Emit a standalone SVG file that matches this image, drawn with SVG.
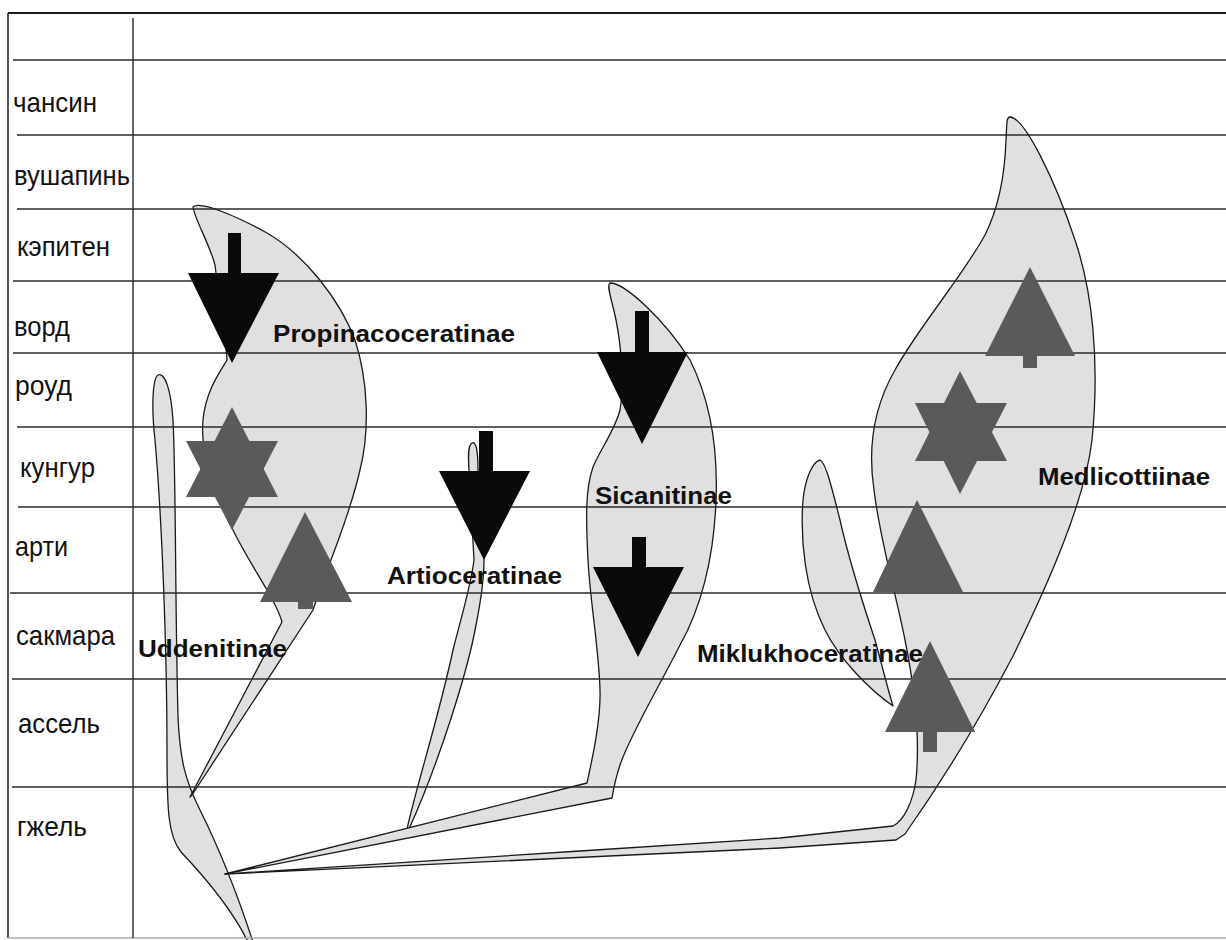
<svg xmlns="http://www.w3.org/2000/svg" width="1226" height="940" viewBox="0 0 1226 940">
<style>
.grid{stroke:#2a2a2a;stroke-width:1.4;fill:none}
.clade{fill:#e0e0e0;stroke:#1a1a1a;stroke-width:1.3;stroke-linejoin:round}
.sym{fill:#5a5a5a;stroke:none}
.arr{fill:#0a0a0a;stroke:none}
.stage{font-family:"Liberation Sans",Arial,sans-serif;font-size:28px;fill:#111}
.name{font-family:"Liberation Sans",Arial,sans-serif;font-size:24px;font-weight:bold;fill:#111}
</style>
<rect x="0" y="0" width="1226" height="940" fill="#ffffff"/>

<g id="clade-shapes">
  <path id="shape-uddenitinae" class="clade" d="M158,375 C165,372 171,390 173,420 C176,480 175,600 178,717 C180,760 185,780 200,810 C215,840 236,890 253,942 L248,942 C230,905 200,872 181,852 C168,836 167,810 167,750 C167,650 162,520 155,440 C151,405 153,378 158,375 Z"/>
  <path id="shape-propinacoceratinae" class="clade" d="M193,207 C200,200 240,218 267,233 C305,255 340,300 355,340 C368,380 370,430 360,470 C352,505 337,545 324,578 L313,610 L192,795 L190,797 L282,622 C276,600 250,565 233,530 C215,495 200,455 203,420 C206,390 220,372 227,360 C225,330 218,290 215,265 C210,245 195,220 193,207 Z"/>
  <path id="shape-artioceratinae" class="clade" d="M472,443 C476,441 478,450 478,470 L484,560 C484,580 481,600 476,625 C468,670 440,760 409,829 L407,829 C418,780 438,720 453,650 C463,610 470,590 474,560 L469,470 C468,455 468,445 472,443 Z"/>
  <path id="shape-sicanitinae" class="clade" d="M610,283 C625,283 665,320 690,360 C710,400 718,450 716,500 C714,560 700,610 680,645 C660,685 630,735 620,765 C615,780 613,792 612,798 L225,874 L587,783 C592,760 601,720 600,690 C599,650 590,600 588,560 C586,520 585,490 593,467 C600,450 615,430 620,410 C625,380 620,340 616,320 C612,300 606,285 610,283 Z"/>
  <path id="shape-miklukhoceratinae" class="clade" d="M820,460 C825,462 830,480 840,520 C850,565 865,610 875,640 C882,665 888,690 893,706 C870,690 840,660 825,630 C805,590 800,540 803,500 C805,480 812,462 820,460 Z"/>
  <path id="shape-medlicottiinae" class="clade" d="M1010,117 C1025,118 1055,180 1075,240 C1092,290 1100,360 1092,440 C1085,500 1050,580 1013,656 C990,700 950,770 905,834 L896,840 L780,848 L225,874 L580,851 L780,838 L893,826 C905,820 913,800 916,780 C920,740 915,690 905,640 C895,590 880,540 874,490 C868,450 872,410 895,370 C920,325 960,280 985,235 C1000,205 1005,170 1006,140 C1007,125 1006,117 1010,117 Z"/>
</g>

<g id="grid">
  <line class="grid" x1="8" y1="13" x2="1226" y2="13" style="stroke-width:2;stroke:#1a1a1a"/>
  <line class="grid" x1="8" y1="13" x2="8" y2="938" style="stroke-width:1.6"/>
  <line class="grid" x1="8" y1="938" x2="1226" y2="938" style="stroke:#aaaaaa;stroke-width:1.5"/>
  <line class="grid" x1="133" y1="18" x2="133" y2="938"/>
  <line class="grid" x1="13" y1="60" x2="1226" y2="60"/>
  <line class="grid" x1="17" y1="135" x2="1226" y2="135"/>
  <line class="grid" x1="17" y1="209" x2="1226" y2="209"/>
  <line class="grid" x1="13" y1="281" x2="1226" y2="281"/>
  <line class="grid" x1="13" y1="353" x2="1226" y2="353"/>
  <line class="grid" x1="17" y1="427" x2="1226" y2="427"/>
  <line class="grid" x1="18" y1="507" x2="1226" y2="507"/>
  <line class="grid" x1="10" y1="593" x2="1226" y2="593"/>
  <line class="grid" x1="12" y1="679" x2="1226" y2="679"/>
  <line class="grid" x1="12" y1="787" x2="1226" y2="787"/>
</g>

<g id="stage-labels">
  <text class="stage" x="13" y="112" textLength="84" lengthAdjust="spacingAndGlyphs">чансин</text>
  <text class="stage" x="14" y="185" textLength="116" lengthAdjust="spacingAndGlyphs">вушапинь</text>
  <text class="stage" x="17" y="256" textLength="93" lengthAdjust="spacingAndGlyphs">кэпитен</text>
  <text class="stage" x="14" y="336" textLength="56" lengthAdjust="spacingAndGlyphs">ворд</text>
  <text class="stage" x="15" y="395" textLength="57" lengthAdjust="spacingAndGlyphs">роуд</text>
  <text class="stage" x="20" y="477" textLength="75" lengthAdjust="spacingAndGlyphs">кунгур</text>
  <text class="stage" x="15" y="556" textLength="53" lengthAdjust="spacingAndGlyphs">арти</text>
  <text class="stage" x="16" y="645" textLength="99" lengthAdjust="spacingAndGlyphs">сакмара</text>
  <text class="stage" x="18" y="733" textLength="82" lengthAdjust="spacingAndGlyphs">ассель</text>
  <text class="stage" x="17" y="836" textLength="70" lengthAdjust="spacingAndGlyphs">гжель</text>
</g>

<g id="node-propinacoceratinae">
  <rect class="arr" x="228" y="233" width="13" height="42"/>
  <polygon class="arr" points="188,273 279,273 232,363"/>
  <polygon class="sym" points="232,407 186,497 278,497"/>
  <polygon class="sym" points="186,441 278,441 232,530"/>
  <rect class="sym" x="298" y="598" width="15" height="11"/>
  <polygon class="sym" points="305,512 260,602 352,602"/>
  <text class="name" x="273" y="342" textLength="242" lengthAdjust="spacingAndGlyphs">Propinacoceratinae</text>
</g>

<g id="node-uddenitinae">
  <text class="name" x="138" y="657" textLength="149" lengthAdjust="spacingAndGlyphs">Uddenitinae</text>
</g>

<g id="node-artioceratinae">
  <rect class="arr" x="479" y="431" width="14" height="42"/>
  <polygon class="arr" points="439,471 530,471 484,560"/>
  <text class="name" x="387" y="584" textLength="175" lengthAdjust="spacingAndGlyphs">Artioceratinae</text>
</g>

<g id="node-sicanitinae">
  <rect class="arr" x="635" y="311" width="14" height="43"/>
  <polygon class="arr" points="597,352 688,352 642,444"/>
  <rect class="arr" x="632" y="537" width="14" height="32"/>
  <polygon class="arr" points="593,567 684,567 638,657"/>
  <text class="name" x="595" y="504" textLength="137" lengthAdjust="spacingAndGlyphs">Sicanitinae</text>
</g>

<g id="node-miklukhoceratinae">
  <text class="name" x="697" y="662" textLength="226" lengthAdjust="spacingAndGlyphs">Miklukhoceratinae</text>
</g>

<g id="node-medlicottiinae">
  <rect class="sym" x="1023" y="354" width="14" height="14"/>
  <polygon class="sym" points="1030,267 985,356 1075,356"/>
  <polygon class="sym" points="960,371 915,461 1007,461"/>
  <polygon class="sym" points="915,403 1007,403 960,494"/>
  <polygon class="sym" points="917,500 873,592 963,592"/>
  <rect class="sym" x="923" y="728" width="14" height="24"/>
  <polygon class="sym" points="930,641 885,732 975,732"/>
  <text class="name" x="1038" y="485" textLength="172" lengthAdjust="spacingAndGlyphs">Medlicottiinae</text>
</g>
</svg>
